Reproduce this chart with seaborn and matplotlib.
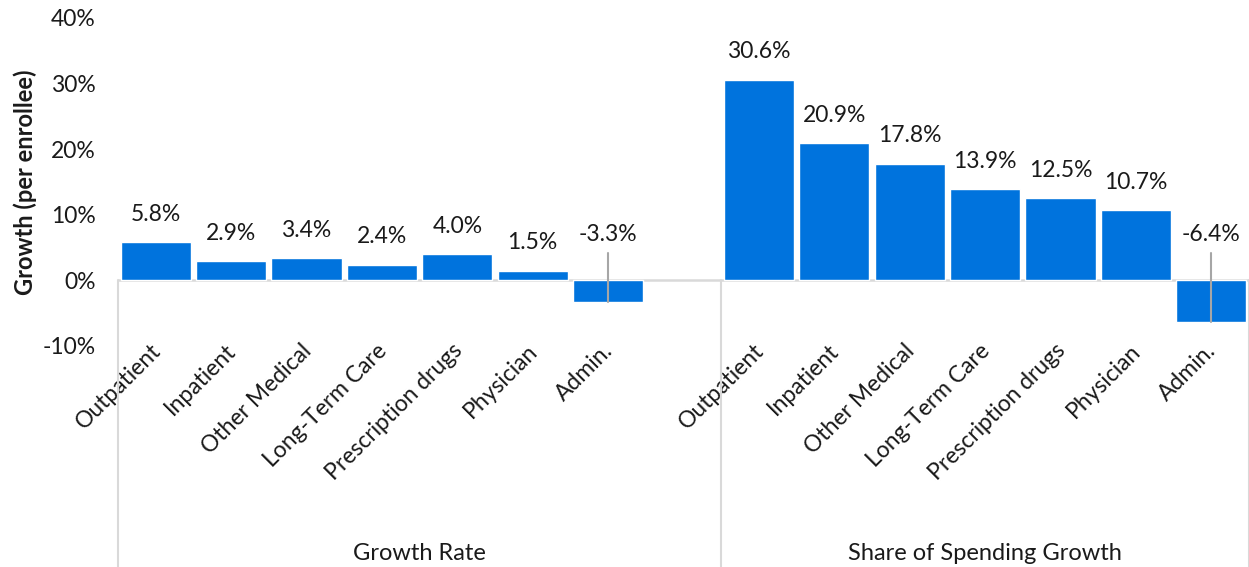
import matplotlib
matplotlib.use("Agg")
import matplotlib.pyplot as plt
import matplotlib.transforms as mtrans
import seaborn as sns
import pandas as pd
from matplotlib.lines import Line2D

# ---- data ----
groups = ["Growth Rate", "Share of Spending Growth"]
categories = ["Outpatient", "Inpatient", "Other Medical", "Long-Term Care",
              "Prescription drugs", "Physician", "Admin."]
growth_rate = [5.8, 2.9, 3.4, 2.4, 4.0, 1.5, -3.3]
share_growth = [30.6, 20.9, 17.8, 13.9, 12.5, 10.7, -6.4]
y_ticks = [-10, 0, 10, 20, 30, 40]

rows = []
for g, vals in zip(groups, [growth_rate, share_growth]):
    for c, v in zip(categories, vals):
        rows.append({"key": f"{g}|{c}", "group": g, "cat": c, "value": v})
df = pd.DataFrame(rows)

gap_key = "gap"
order = [f"{groups[0]}|{c}" for c in categories] + [gap_key] + \
        [f"{groups[1]}|{c}" for c in categories]

sns.set_theme(style="white")
plt.rcParams["font.family"] = ["Lato", "DejaVu Sans"]

W, H = 1249, 567
FS = 16.5
TXT = "#1a1a1a"
fig = plt.figure(figsize=(W / 100, H / 100), dpi=100)
ax = fig.add_axes([118 / W, 1 - 346 / H, (W - 118) / W, (346 - 18) / H])

bar_color = "#0073DD"
sns.barplot(data=df, x="key", y="value", order=order, color=bar_color,
            width=0.93, saturation=1, ax=ax, errorbar=None)

ax.set_xlim(-0.5, len(order) - 0.5)
ax.set_ylim(-10, 40)
ax.set_yticks(y_ticks)
ax.set_yticklabels([f"{t}%" for t in y_ticks], fontsize=FS, color=TXT)
ax.tick_params(axis="y", length=0, pad=16)
ax.tick_params(axis="x", length=0, pad=0)
for s in ax.spines.values():
    s.set_visible(False)

labels = [k.split("|")[1] if "|" in k else "" for k in order]
ax.set_xticks(range(len(order)))
ax.set_xticklabels(labels, rotation=45, ha="right", rotation_mode="anchor",
                   fontsize=FS, color=TXT)
shift = mtrans.ScaledTranslation(-6 / 100, 6 / 100, fig.dpi_scale_trans)
for lab in ax.get_xticklabels():
    lab.set_transform(lab.get_transform() + shift)
ax.set_xlabel("")
ax.set_ylabel("Growth (per enrollee)", fontsize=17, fontweight="bold",
              color=TXT, labelpad=4)

# zero line
ax.axhline(0, color="#D9D9D9", lw=1.8, zorder=0.5)

# data labels
for i, k in enumerate(order):
    if k == gap_key:
        continue
    v = df.loc[df.key == k, "value"].iloc[0]
    if v >= 0:
        ax.annotate(f"{v:.1f}%", (i, v), xytext=(0, 20), textcoords="offset points",
                    ha="center", va="center", fontsize=FS, color=TXT)
    else:
        ax.annotate(f"{v:.1f}%", (i, 0), xytext=(0, 33), textcoords="offset points",
                    ha="center", va="center", fontsize=FS, color=TXT)
        ax.plot([i, i], [4.2, v], color="#A6A6A6", lw=1.5, zorder=3)

# group separators and labels (below axes)
trans = ax.get_xaxis_transform()
fig_bottom = -(H - 346) / (346 - 18)
y0 = 10 / 50
for xs in [-0.5, 7.5, len(order) - 0.5]:
    ax.add_line(Line2D([xs, xs], [y0, fig_bottom], transform=trans,
                       color="#D9D9D9", lw=1.5, clip_on=False))
group_centers = [(-0.5 + 7.5) / 2, (7.5 + len(order) - 0.5) / 2]
blend = mtrans.blended_transform_factory(ax.transData, fig.transFigure)
for g, xc in zip(groups, group_centers):
    ax.text(xc, 1 - 553 / H, g, transform=blend,
            ha="center", va="center", fontsize=17, color=TXT)

fig.savefig("out.png", dpi=100)
